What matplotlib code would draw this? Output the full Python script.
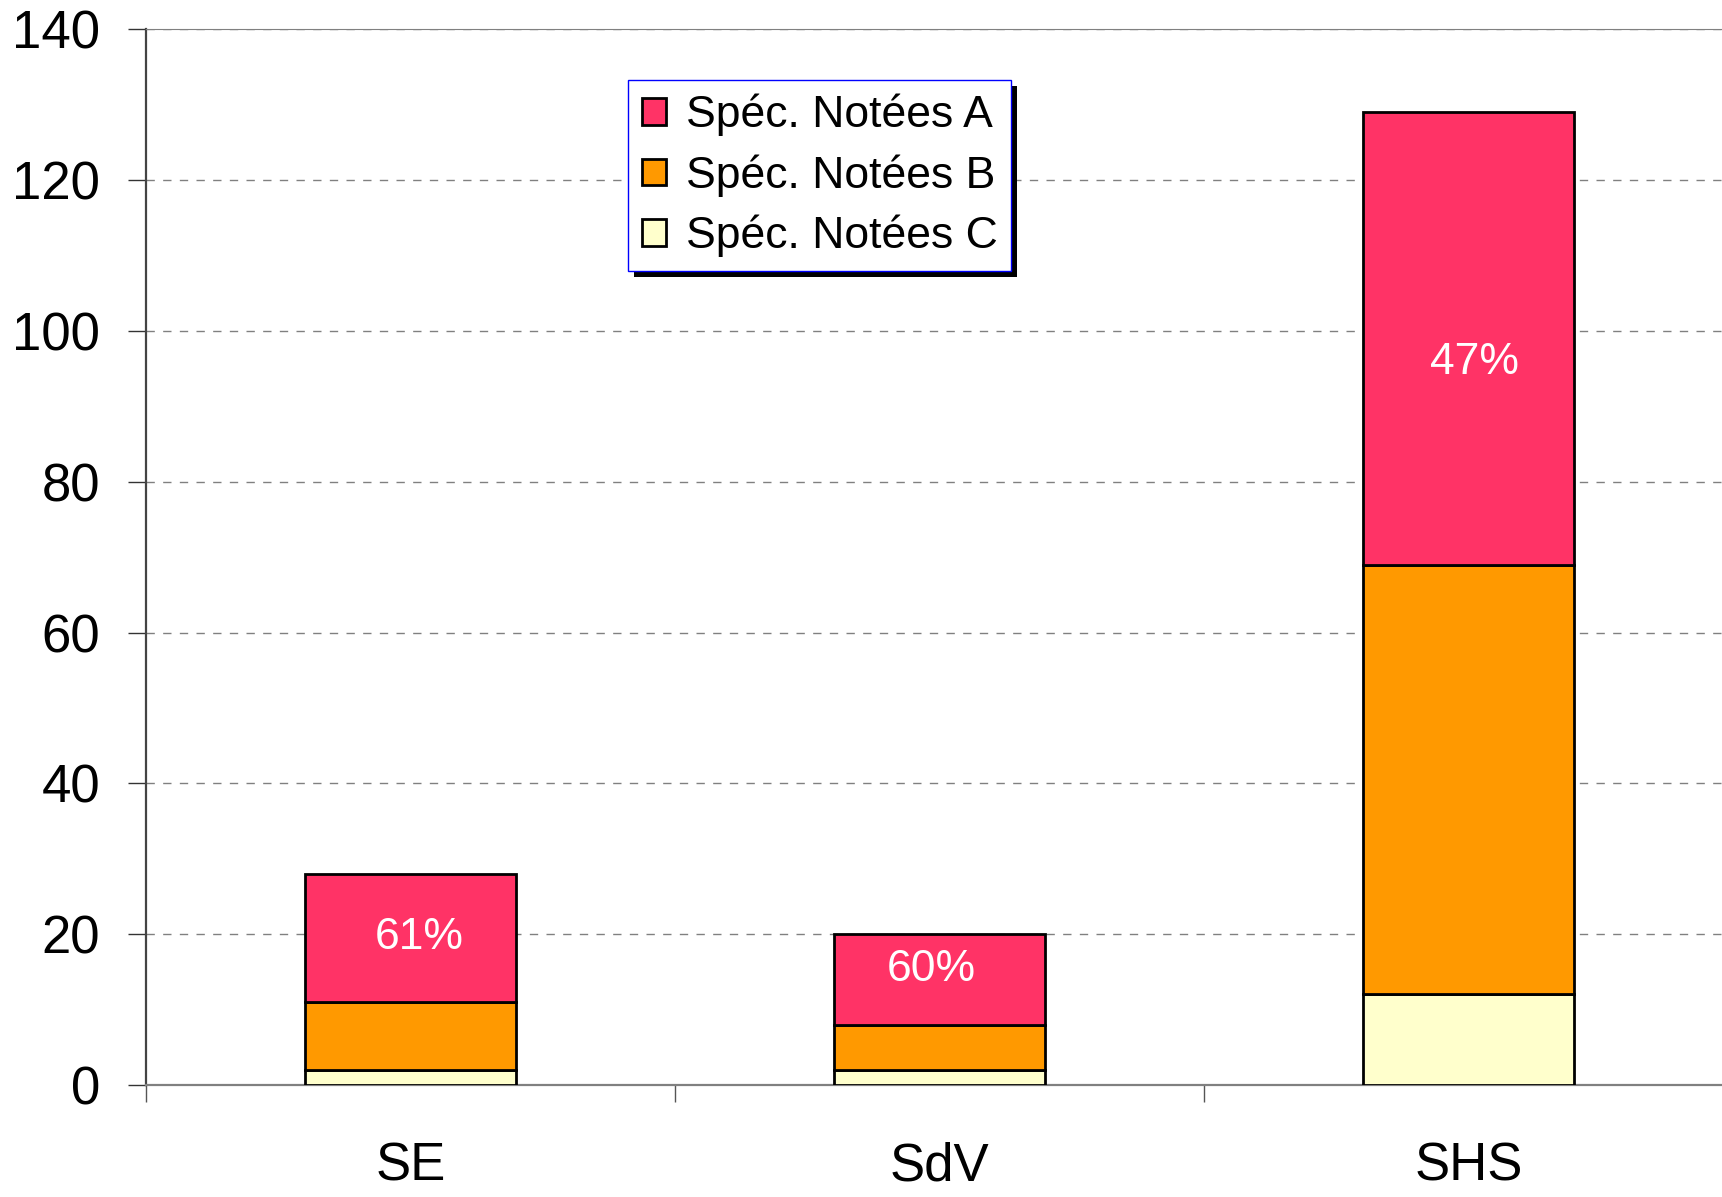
import matplotlib
matplotlib.use("Agg")
import matplotlib.pyplot as plt
import numpy as np
from matplotlib.patches import Rectangle
from matplotlib.transforms import IdentityTransform

plt.rcParams["font.family"] = ["Liberation Sans", "DejaVu Sans"]

categories = ["SE", "SdV", "SHS"]
notes_c = [2, 2, 12]
notes_b = [9, 6, 57]
notes_a = [17, 12, 60]
series_labels = ["Spéc. Notées A", "Spéc. Notées B", "Spéc. Notées C"]
pct_labels = ["61%", "60%", "47%"]
pct_y = [19.6, 15.3, 95.8]
pct_dx = [0.016, -0.015, 0.012]

COL_A = "#FF3366"
COL_B = "#FF9900"
COL_C = "#FFFFCC"

fig = plt.figure(figsize=(17.22, 11.97), dpi=100)
ax = fig.add_axes([0.0848, 0.0936, 0.9216, 0.8818])

x = np.arange(len(categories)) + 0.5
c = np.array(notes_c)
b = np.array(notes_b)
a = np.array(notes_a)
kw = dict(width=0.4, edgecolor="black", linewidth=2, zorder=3)
h_c = ax.bar(x, c, color=COL_C, **kw)
h_b = ax.bar(x, b, bottom=c, color=COL_B, **kw)
h_a = ax.bar(x, a, bottom=c + b, color=COL_A, **kw)

for xi, dx, yi, t in zip(x, pct_dx, pct_y, pct_labels):
    ax.text(xi + dx, yi, t, color="white", fontsize=32, ha="center", va="center", zorder=4)

ax.set_xlim(0, 3)
ax.set_ylim(0, 140)
ax.set_yticks(np.arange(0, 141, 20))
ax.tick_params(axis="y", labelsize=38, length=13, width=1, color="#333333", pad=20)
ax.yaxis.grid(True, color="#808080", linestyle=(0, (6, 6)), linewidth=1, zorder=0)

ax.set_xticks(x)
ax.set_xticklabels(categories)
ax.set_xticks([0, 1, 2, 3], minor=True)
ax.tick_params(axis="x", which="major", length=0, labelsize=38, pad=41)
ax.tick_params(axis="x", which="minor", length=12, width=1, color="#555555")

ax.spines["right"].set_visible(False)
ax.spines["top"].set_color("#808080")
ax.spines["left"].set_color("#444444")
ax.spines["left"].set_linewidth(1.6)
ax.spines["bottom"].set_color("#808080")
ax.spines["bottom"].set_linewidth(1.6)

leg = ax.legend([h_a, h_b, h_c], series_labels, loc="upper left",
                bbox_to_anchor=(0.304, 0.952), borderaxespad=0, fontsize=32,
                fancybox=False, framealpha=1, edgecolor="#0000FF",
                handlelength=0.55, handleheight=0.55, handletextpad=0.45,
                labelspacing=0.41, borderpad=0.3)
leg.get_frame().set_linewidth(1.0)
leg.set_zorder(6)

fig.canvas.draw()
bb = leg.get_window_extent()
shadow = Rectangle((bb.x0 + 6, bb.y0 - 6), bb.width, bb.height,
                   transform=IdentityTransform(), facecolor="black",
                   edgecolor="none", zorder=5)
ax.add_artist(shadow)

fig.savefig("out.png", dpi=100)
